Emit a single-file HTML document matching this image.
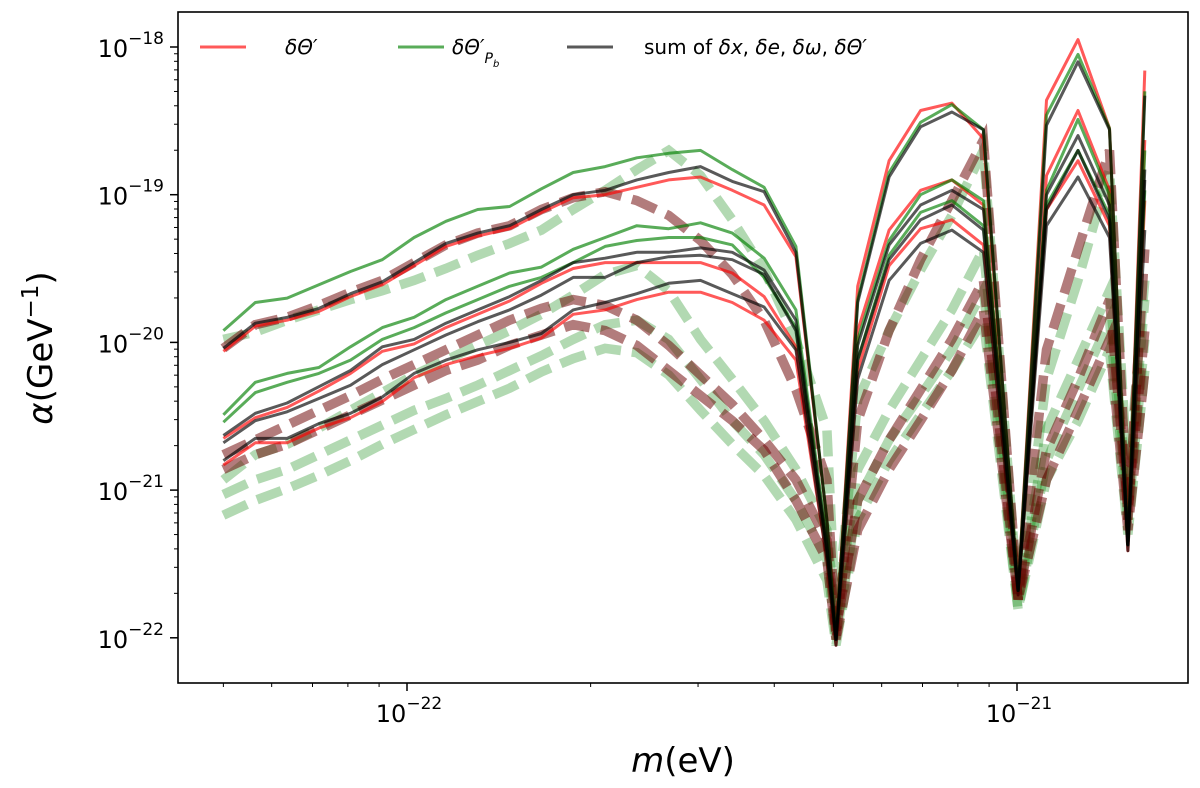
<!DOCTYPE html>
<html><head><meta charset="utf-8"><style>
html,body{margin:0;padding:0;background:#fff;}
svg{display:block;font-family:"DejaVu Sans","Liberation Sans",sans-serif;}
</style></head><body>
<svg id="chart" width="1200" height="788" viewBox="0 0 1200 788" xmlns="http://www.w3.org/2000/svg">
<rect x="0" y="0" width="1200" height="788" fill="#fff"/>
<g id="dashed-layer"></g>
<g id="solid-layer"></g>
<rect x="178" y="12" width="1010" height="671" fill="none" stroke="#000" stroke-width="1.6"/>
<g id="axes"></g>
<text transform="translate(52,348) rotate(-90)" text-anchor="middle" font-size="34"><tspan font-style="italic">α</tspan>(GeV<tspan dy="-14" font-size="23">−1</tspan><tspan dy="14">)</tspan></text>
<text x="683" y="772" text-anchor="middle" font-size="34"><tspan font-style="italic">m</tspan>(eV)</text>
<g>
  <g>
    <line x1="200" y1="47" x2="246" y2="47" stroke="red" stroke-opacity="0.65" stroke-width="3"/>
    <text x="285" y="54" font-size="20" font-style="italic">δΘ′</text>
  </g>
  <g>
    <line x1="398" y1="47" x2="444" y2="47" stroke="green" stroke-opacity="0.65" stroke-width="3"/>
    <text x="452" y="54" font-size="20" font-style="italic">δΘ′<tspan dy="9" font-size="14">P</tspan><tspan dy="4" font-size="10">b</tspan></text>
  </g>
  <g>
    <line x1="567" y1="47" x2="613" y2="47" stroke="#000" stroke-opacity="0.65" stroke-width="3"/>
    <text x="644" y="54" font-size="20">sum of <tspan font-style="italic">δx</tspan>, <tspan font-style="italic">δe</tspan>, <tspan font-style="italic">δω</tspan>, <tspan font-style="italic">δΘ′</tspan></text>
  </g>
</g>
</svg>
<script>
const mass = [5.00e-23,5.64e-23,6.36e-23,7.17e-23,8.08e-23,9.11e-23,1.027e-22,1.158e-22,1.306e-22,1.473e-22,1.661e-22,1.873e-22,2.112e-22,2.381e-22,2.685e-22,3.028e-22,3.414e-22,3.850e-22,4.341e-22,4.88e-22,5.05e-22,5.48e-22,6.17e-22,6.95e-22,7.82e-22,8.81e-22,1.004e-21,1.118e-21,1.259e-21,1.418e-21,1.52e-21,1.62e-21];
// log10(alpha / GeV^-1)
const blackA = [-20.04,-19.87,-19.83,-19.77,-19.67,-19.59,-19.46,-19.33,-19.26,-19.21,-19.10,-19.00,-18.97,-18.90,-18.85,-18.81,-18.91,-18.98,-19.39,-21.20,-22.01,-19.73,-18.88,-18.54,-18.44,-18.56,-21.68,-18.53,-18.10,-18.56,-21.37,-18.33];
const redA = [-20.06,-19.89,-19.85,-19.79,-19.69,-19.61,-19.48,-19.35,-19.28,-19.23,-19.12,-19.02,-19.00,-18.95,-18.90,-18.88,-18.97,-19.07,-19.42,-21.20,-22.01,-19.62,-18.77,-18.43,-18.38,-18.62,-21.68,-18.36,-17.95,-18.55,-21.37,-18.16];
const greenA = [-19.92,-19.73,-19.70,-19.61,-19.52,-19.44,-19.29,-19.18,-19.10,-19.08,-18.96,-18.85,-18.81,-18.75,-18.72,-18.70,-18.83,-18.95,-19.35,-21.20,-22.01,-19.71,-18.85,-18.51,-18.39,-18.56,-21.68,-18.46,-18.05,-18.55,-21.37,-18.30];
const blackB = [-20.63,-20.48,-20.41,-20.30,-20.19,-20.03,-19.98,-19.87,-19.78,-19.69,-19.58,-19.46,-19.43,-19.39,-19.39,-19.36,-19.39,-19.51,-19.85,-21.37,-22.01,-20.02,-19.34,-19.07,-18.97,-19.10,-21.68,-19.00,-18.60,-19.07,-21.37,-18.83];
const redB = [-20.65,-20.51,-20.44,-20.33,-20.21,-20.06,-20.01,-19.90,-19.81,-19.72,-19.60,-19.50,-19.46,-19.46,-19.46,-19.46,-19.53,-19.69,-20.03,-21.37,-22.01,-19.92,-19.24,-18.97,-18.90,-19.07,-21.68,-18.87,-18.43,-18.97,-21.37,-18.63];
const greenB = [-20.49,-20.27,-20.21,-20.17,-20.03,-19.90,-19.83,-19.71,-19.62,-19.53,-19.49,-19.37,-19.29,-19.21,-19.23,-19.19,-19.26,-19.43,-19.78,-21.34,-22.01,-19.98,-19.31,-19.00,-18.90,-19.04,-21.68,-18.97,-18.49,-19.00,-21.37,-18.70];
const blackC = [-20.80,-20.65,-20.65,-20.55,-20.48,-20.37,-20.21,-20.12,-20.05,-20.00,-19.94,-19.78,-19.73,-19.67,-19.60,-19.58,-19.67,-19.76,-20.05,-21.47,-22.05,-20.25,-19.58,-19.33,-19.24,-19.39,-21.71,-19.21,-18.88,-19.29,-21.41,-19.24];
const redC = [-20.83,-20.68,-20.68,-20.58,-20.51,-20.40,-20.24,-20.15,-20.09,-20.04,-19.97,-19.81,-19.78,-19.71,-19.66,-19.66,-19.73,-19.85,-20.12,-21.47,-22.05,-20.19,-19.48,-19.23,-19.17,-19.34,-21.71,-19.10,-18.77,-19.21,-21.41,-19.04];
const greenC = [-20.54,-20.34,-20.27,-20.21,-20.12,-19.98,-19.90,-19.80,-19.71,-19.62,-19.56,-19.46,-19.35,-19.31,-19.29,-19.29,-19.34,-19.56,-19.90,-21.41,-22.01,-20.12,-19.41,-19.12,-19.04,-19.21,-21.68,-19.07,-18.70,-19.14,-21.37,-18.97];
const blackD = [-20.68,-20.53,-20.47,-20.38,-20.29,-20.15,-20.05,-19.95,-19.86,-19.78,-19.68,-19.56,-19.56,-19.46,-19.42,-19.41,-19.44,-19.54,-19.92,-21.41,-22.01,-20.12,-19.44,-19.17,-19.07,-19.24,-21.68,-19.10,-18.70,-19.17,-21.37,-18.90];
const dashDark1 = [-20.04,-19.88,-19.83,-19.75,-19.66,-19.58,-19.46,-19.34,-19.26,-19.21,-19.10,-19.02,-18.98,-19.04,-19.14,-19.31,-19.54,-19.85,-20.32,-20.93,-22.01,-20.53,-19.92,-19.44,-19.04,-18.63,-21.74,-20.05,-19.37,-18.70,-21.20,-19.37];
const dashDark2 = [-20.76,-20.66,-20.56,-20.46,-20.36,-20.25,-20.15,-20.05,-19.95,-19.85,-19.77,-19.71,-19.75,-19.85,-20.02,-20.22,-20.42,-20.66,-20.93,-21.34,-21.95,-21.07,-20.66,-20.32,-19.98,-19.58,-21.74,-20.73,-20.25,-19.71,-21.13,-19.92];
const dashDark3 = [-20.86,-20.76,-20.69,-20.59,-20.49,-20.39,-20.29,-20.19,-20.12,-20.02,-19.95,-19.88,-19.92,-20.02,-20.19,-20.36,-20.53,-20.73,-21.07,-21.47,-22.01,-21.27,-20.86,-20.53,-20.19,-19.78,-21.74,-20.93,-20.46,-19.98,-21.27,-20.19];
const dashGreen1 = [-19.98,-19.93,-19.85,-19.78,-19.71,-19.65,-19.58,-19.50,-19.41,-19.33,-19.24,-19.10,-18.97,-18.83,-18.70,-18.87,-19.17,-19.51,-19.98,-20.59,-21.88,-20.39,-19.92,-19.51,-19.14,-18.70,-21.74,-20.25,-19.58,-18.83,-20.93,-19.58];
const dashGreen2 = [-20.93,-20.76,-20.69,-20.58,-20.46,-20.34,-20.22,-20.12,-20.02,-19.92,-19.81,-19.68,-19.54,-19.48,-19.65,-19.98,-20.25,-20.53,-20.86,-21.27,-21.88,-20.86,-20.46,-20.12,-19.78,-19.37,-21.74,-20.59,-20.12,-19.65,-21.07,-19.71];
const dashGreen3 = [-21.03,-20.93,-20.86,-20.76,-20.66,-20.56,-20.46,-20.38,-20.29,-20.19,-20.09,-19.98,-19.88,-19.85,-19.98,-20.25,-20.53,-20.76,-21.07,-21.47,-22.01,-21.07,-20.66,-20.36,-20.05,-19.65,-21.81,-20.80,-20.32,-19.85,-21.20,-19.98];
const dashGreen4 = [-21.17,-21.07,-20.99,-20.90,-20.80,-20.69,-20.59,-20.49,-20.40,-20.31,-20.20,-20.11,-20.04,-20.07,-20.22,-20.46,-20.69,-20.90,-21.20,-21.61,-22.05,-21.20,-20.80,-20.49,-20.19,-19.85,-21.81,-20.93,-20.53,-20.05,-21.30,-20.19];
const yTickExps = [-22,-21,-20,-19,-18];
const xTickExps = [-22,-21];

const NS = "http://www.w3.org/2000/svg";
const X0 = 407, XD = 610;
const Y0 = 47, YD = 147.7;
function xScale(m){ return X0 + (Math.log10(m) + 22) * XD; }
function yScale(l){ return Y0 + (-18 - l) * YD; }

function mk(tag, attrs, parent){
  const e = document.createElementNS(NS, tag);
  for (const k in attrs) e.setAttribute(k, attrs[k]);
  parent.appendChild(e);
  return e;
}
function pathFor(vals){
  return vals.map((v,i)=> (i?'L':'M') + xScale(mass[i]).toFixed(1) + ' ' + yScale(v).toFixed(1)).join(' ');
}
const dashedLayer = document.getElementById('dashed-layer');
const solidLayer = document.getElementById('solid-layer');

function dashed(vals, color, name){
  const p = mk('path', {d: pathFor(vals), fill:'none', stroke:color, 'stroke-opacity':'0.3', 'stroke-width':'9.5', 'stroke-dasharray':'26 11'}, dashedLayer);
  
  
}
dashed(dashGreen4, 'green', 'dashed-green-4');
dashed(dashGreen3, 'green', 'dashed-green-3');
dashed(dashGreen2, 'green', 'dashed-green-2');
dashed(dashGreen1, 'green', 'dashed-green-1');
dashed(dashDark3, 'red', 'dashed-red-3');
dashed(dashDark3, '#000', 'dashed-black-3');
dashed(dashDark2, 'red', 'dashed-red-2');
dashed(dashDark2, '#000', 'dashed-black-2');
dashed(dashDark1, 'red', 'dashed-red-1');
dashed(dashDark1, '#000', 'dashed-black-1');

function solid(vals, color, name){
  const p = mk('path', {d: pathFor(vals), fill:'none', stroke:color, 'stroke-opacity':'0.65', 'stroke-width':'3', 'stroke-linejoin':'round'}, solidLayer);
  
  
}
solid(redA, 'red', 'solid-red-a');
solid(redB, 'red', 'solid-red-b');
solid(redC, 'red', 'solid-red-c');
solid(greenA, 'green', 'solid-green-a');
solid(greenB, 'green', 'solid-green-b');
solid(greenC, 'green', 'solid-green-c');
solid(blackA, '#000', 'solid-black-a');
solid(blackB, '#000', 'solid-black-b');
solid(blackC, '#000', 'solid-black-c');
solid(blackD, '#000', 'solid-black-d');

const axes = document.getElementById('axes');
yTickExps.forEach(e=>{
  const y = yScale(e);
  const t = mk('line', {x1:170, x2:178, y1:y, y2:y, stroke:'#000', 'stroke-width':'1.5'}, axes);
  
  
  const lab = mk('text', {x:164, y:y+10, 'text-anchor':'end', 'font-size':'24'}, axes);
  
  
  lab.innerHTML = '10<tspan dy="-13" font-size="17">−' + Math.abs(e) + '</tspan>';
  for (let k=2;k<=9;k++){
    const l = e + Math.log10(k);
    const yy = yScale(l);
    if (yy < 12 || yy > 683) continue;
    const mt = mk('line', {x1:174, x2:178, y1:yy, y2:yy, stroke:'#000', 'stroke-width':'1'}, axes);
    
    
  }
});
[-23,-22,-21].forEach(e=>{
  for (let k=1;k<=9;k++){
    const x = xScale(k*Math.pow(10,e));
    if (x < 178 || x > 1188) continue;
    const mt = mk('line', {x1:x, x2:x, y1:683, y2: k===1?691:687, stroke:'#000', 'stroke-width': k===1?'1.5':'1'}, axes);
    
    
  }
});
xTickExps.forEach(e=>{
  const x = xScale(Math.pow(10,e));
  const lab = mk('text', {x:x+2, y:722, 'text-anchor':'middle', 'font-size':'24'}, axes);
  
  
  lab.innerHTML = '10<tspan dy="-13" font-size="17">−' + Math.abs(e) + '</tspan>';
});
</script>
</body></html>
